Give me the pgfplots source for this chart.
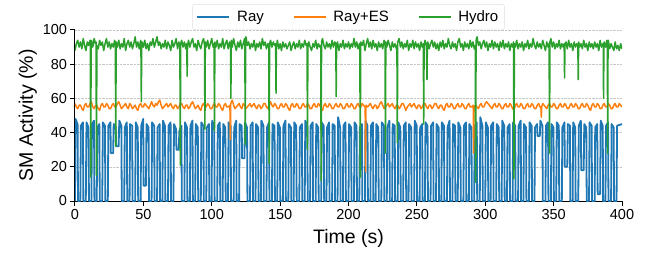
\documentclass[border=0pt]{standalone}
\usepackage{pgfplots}
\pgfplotsset{compat=1.18}
\usepackage{fontspec}
\setmainfont{Liberation Sans}
\definecolor{cblue}{HTML}{1F77B4}
\definecolor{corange}{HTML}{FF7F0E}
\definecolor{cgreen}{HTML}{2CA02C}
\begin{document}
\begin{tikzpicture}
\useasboundingbox (-75pt,-53pt) rectangle (572pt,201pt);
\begin{axis}[
  at={(0pt,0pt)}, anchor=south west,
  width=547pt, height=171pt, scale only axis,
  xmin=0, xmax=400, ymin=0, ymax=100,
  axis x line*=bottom, axis y line*=left,
  axis line style={line width=1pt, -},
  tick align=outside, tick style={line width=1pt, black}, major tick length=4.5pt,
  xtick={0,50,...,400}, ytick={0,20,...,100},
  ymajorgrids, grid style={densely dotted, gray!45, line width=0.6pt},
  /pgf/number format/assume math mode=true,
  ticklabel style={font=\fontsize{14.5}{16}\selectfont},
  xlabel={Time (s)}, ylabel={SM Activity (\%)},
  label style={font=\fontsize{19.5}{21}\selectfont},
  xlabel style={yshift=-3pt},
  ylabel style={yshift=-1pt},
  legend columns=3,
  legend style={at={(0.5,1.0)}, anchor=south, draw=gray!25, rounded corners=2pt,
    font=\fontsize{15}{17}\selectfont, inner xsep=4pt, inner ysep=4.5pt,
    /tikz/every odd column/.append style={column sep=5pt},
    /tikz/every even column/.append style={column sep=27pt}},
  legend image code/.code={\draw[#1, line width=1.5pt] (0pt,0pt) -- (32pt,0pt);},
  every axis plot/.append style={line width=1.5pt, line join=round},
]
\addplot[cblue, line width=1.8pt] coordinates {
(0,0) (0.4,48) (1.9,45) (2.2,0) (3.9,0)
(4.3,44) (5.8,46) (6.1,0) (7.9,0)
(8.4,46) (9.9,43) (10.2,0) (12.0,0)
(12.4,45) (13.9,47) (14.2,0) (15.9,0)
(16.3,43) (17.8,45) (18.1,0) (19.9,0)
(20.4,46) (21.9,44) (22.2,0) (24.0,0)
(24.4,44) (25.9,46) (26.2,28) (27.9,28)
(28.3,45) (29.8,43) (30.1,32) (31.9,32)
(32.4,47) (33.9,44) (34.2,0) (36.0,0)
(36.4,43) (37.9,46) (38.2,0) (39.9,0)
(40.3,45) (41.8,44) (42.1,0) (44.0,0)
(44.4,46) (45.9,43) (46.2,0) (48.0,0)
(48.4,44) (49.9,48) (50.2,9) (51.9,9)
(52.3,45) (53.8,43) (54.1,0) (56.0,0)
(56.4,46) (57.9,44) (58.2,0) (60.0,0)
(60.4,43) (61.9,45) (62.2,0) (63.9,0)
(64.3,47) (65.8,44) (66.1,0) (68.0,0)
(68.4,44) (69.9,46) (70.2,0) (72.0,0)
(72.4,45) (73.9,42) (74.2,30) (75.9,30)
(76.3,41) (77.8,44) (78.1,0) (80.0,0)
(80.4,46) (81.9,43) (82.2,0) (84.0,0)
(84.4,44) (85.9,47) (86.2,0) (87.9,0)
(88.3,45) (89.8,43) (90.1,0) (92.0,0)
(92.4,46) (93.9,44) (94.2,0) (96.0,0)
(96.4,43) (97.9,45) (98.2,0) (99.9,0)
(100.3,47) (101.8,44) (102.1,0) (104.0,0)
(104.4,44) (105.9,46) (106.2,0) (108.0,0)
(108.4,45) (109.9,43) (110.2,0) (111.9,0)
(112.3,46) (113.8,44) (114.1,0) (116.0,0)
(116.4,43) (117.9,47) (118.2,0) (120.0,0)
(120.4,45) (121.9,44) (122.2,25) (123.9,25)
(124.3,46) (125.8,43) (126.1,0) (128.0,0)
(128.4,44) (129.9,46) (130.2,0) (132.0,0)
(132.4,45) (133.9,43) (134.2,0) (135.9,0)
(136.3,47) (137.8,44) (138.1,0) (140.0,0)
(140.4,43) (141.9,46) (142.2,0) (144.0,0)
(144.4,45) (145.9,44) (146.2,0) (147.9,0)
(148.3,46) (149.8,43) (150.1,0) (152.0,0)
(152.4,44) (153.9,47) (154.2,0) (156.0,0)
(156.4,45) (157.9,43) (158.2,0) (159.9,0)
(160.3,46) (161.8,44) (162.1,0) (164.0,0)
(164.4,43) (165.9,45) (166.2,0) (168.0,0)
(168.4,47) (169.9,44) (170.2,0) (171.9,0)
(172.3,44) (173.8,46) (174.1,0) (176.0,0)
(176.4,45) (177.9,43) (178.2,0) (180.0,0)
(180.4,46) (181.9,44) (182.2,0) (183.9,0)
(184.3,43) (185.8,46) (186.1,0) (188.0,0)
(188.4,45) (189.9,44) (190.2,0) (192.0,0)
(192.4,49) (193.9,43) (194.2,0) (195.9,0)
(196.3,44) (197.8,46) (198.1,0) (200.0,0)
(200.4,45) (201.9,43) (202.2,0) (204.0,0)
(204.4,46) (205.9,44) (206.2,0) (207.9,0)
(208.3,43) (209.8,45) (210.1,0) (212.0,0)
(212.4,47) (213.9,44) (214.2,0) (216.0,0)
(216.4,44) (217.9,46) (218.2,0) (219.9,0)
(220.3,45) (221.8,43) (222.1,0) (224.0,0)
(224.4,46) (225.9,44) (226.2,0) (228.0,0)
(228.4,43) (229.9,47) (230.2,0) (231.9,0)
(232.3,45) (233.8,44) (234.1,0) (236.0,0)
(236.4,46) (237.9,43) (238.2,0) (240.0,0)
(240.4,44) (241.9,46) (242.2,0) (243.9,0)
(244.3,45) (245.8,43) (246.1,0) (248.0,0)
(248.4,47) (249.9,44) (250.2,0) (252.0,0)
(252.4,43) (253.9,45) (254.2,0) (255.9,0)
(256.3,46) (257.8,44) (258.1,0) (260.0,0)
(260.4,44) (261.9,46) (262.2,0) (264.0,0)
(264.4,45) (265.9,43) (266.2,0) (267.9,0)
(268.3,46) (269.8,44) (270.1,0) (272.0,0)
(272.4,43) (273.9,47) (274.2,0) (276.0,0)
(276.4,45) (277.9,44) (278.2,0) (279.9,0)
(280.3,46) (281.8,43) (282.1,0) (284.0,0)
(284.4,44) (285.9,46) (286.2,0) (288.0,0)
(288.4,45) (289.9,43) (290.2,0) (291.9,0)
(292.3,44) (293.8,46) (294.1,0) (296.0,0)
(296.4,49) (297.9,44) (298.2,0) (300.0,0)
(300.4,46) (301.9,43) (302.2,0) (303.9,0)
(304.3,44) (305.8,46) (306.1,0) (308.0,0)
(308.4,45) (309.9,43) (310.2,0) (312.0,0)
(312.4,47) (313.9,44) (314.2,0) (315.9,0)
(316.3,43) (317.8,45) (318.1,0) (320.0,0)
(320.4,46) (321.9,44) (322.2,0) (324.0,0)
(324.4,44) (325.9,47) (326.2,0) (327.9,0)
(328.3,45) (329.8,43) (330.1,0) (332.0,0)
(332.4,46) (333.9,44) (334.2,0) (336.0,0)
(336.4,43) (337.9,45) (338.2,38) (339.9,38)
(340.3,47) (341.8,44) (342.1,0) (344.0,0)
(344.4,44) (345.9,46) (346.2,0) (348.0,0)
(348.4,45) (349.9,43) (350.2,0) (351.9,0)
(352.3,46) (353.8,44) (354.1,0) (356.0,0)
(356.4,43) (357.9,46) (358.2,20) (360.0,20)
(360.4,45) (361.9,44) (362.2,0) (363.9,0)
(364.3,46) (365.8,43) (366.1,0) (368.0,0)
(368.4,44) (369.9,47) (370.2,18) (372.0,18)
(372.4,45) (373.9,43) (374.2,0) (375.9,0)
(376.3,46) (377.8,44) (378.1,0) (380.0,0)
(380.4,43) (381.9,45) (382.2,4) (384.0,4)
(384.4,47) (385.9,44) (386.2,0) (387.9,0)
(388.3,44) (389.8,46) (390.1,0) (392.0,0)
(392.4,45) (393.9,43) (394.2,0) (396.0,0)
(396.4,44) (400,45)
};
\addlegendentry{Ray}
\addplot[corange] coordinates {
(0,57) (1,55) (2,54) (3,56) (4,56) (5,54) (6,53) (7,56) (8,57) (9,55)
(10,55) (11,57) (12,58) (13,55) (14,54) (15,56) (16,56) (17,54) (18,53) (19,56)
(20,57) (21,55) (22,55) (23,57) (24,56) (25,54) (26,54) (27,56) (28,57) (29,55)
(30,55) (31,57) (32,58) (33,56) (34,54) (35,55) (36,56) (37,57) (38,55) (39,54)
(40,57) (41,56) (42,54) (43,55) (44,56) (45,54) (46,53) (47,56) (48,57) (49,55)
(50,55) (51,57) (52,56) (53,55) (54,54) (55,56) (56,58) (57,56) (58,55) (59,57)
(60,56) (61,58) (62,59) (63,56) (64,54) (65,55) (66,56) (67,57) (68,55) (69,56)
(70,57) (71,55) (72,54) (73,56) (74,56) (75,54) (76,55) (77,57) (78,57) (79,55)
(80,54) (81,56) (82,56) (83,54) (84,55) (85,57) (86,58) (87,56) (88,54) (89,55)
(90,56) (91,54) (92,53) (93,56) (94,57) (95,55) (96,55) (97,57) (98,56) (99,54)
(100,54) (101,56) (102,57) (103,55) (104,55) (105,57) (106,56) (107,54) (108,53) (109,56)
(110,57) (111,55) (112,55) (113.3,56) (113.6,36) (113.9,57) (115,59) (116,56) (117,54) (118,55)
(119,56) (120,57) (121,55) (122,54) (123,57) (124,56) (125,54) (126,55) (127,56) (128,57)
(129,55) (130,56) (131,57) (132,55) (133,54) (134,56) (135,56) (136,54) (137,55) (138,57)
(139,57) (140,55) (141,54) (142,56) (143,58) (144,56) (145,55) (146,57) (147,56) (148,54)
(149,54) (150,56) (151,57) (152,55) (153,55) (154,57) (155,56) (156,54) (157,53) (158,56)
(159,57) (160,55) (161,55) (162,57) (163,56) (164,54) (165,54) (166,56) (167,57) (168,55)
(169,55) (170,57) (171,56) (172,54) (173,54) (174,56) (175,57) (176,55) (177,55) (178,57)
(179,56) (180,54) (181,53) (182,56) (183,57) (184,55) (185,55) (186,57) (187,56) (188,54)
(189,54) (190,56) (191,57) (192,55) (193,55) (194,57) (195,56) (196,54) (197,54) (198,56)
(199,57) (200,55) (201,55) (202,57) (203,56) (204,54) (205,54) (206,56) (207,57) (208,55)
(209,55) (210,57) (211,56) (212.2,55) (212.5,17) (212.8,56) (214,55) (215,56) (216,57) (217,55)
(218,54) (219,56) (220,56) (221,54) (222,55) (223,57) (224,58) (225,56) (226,54) (227,55)
(228,56) (229,57) (230,55) (231,56) (232,57) (233,55) (234,54) (235,56) (236,56) (237,54)
(238,55) (239,57) (240,57) (241,55) (242,53) (243,55) (244,56) (245,57) (246,55) (247,56)
(248,57) (249,55) (250,54) (251,56) (252,56) (253,54) (254,55) (255,57) (256,57) (257,55)
(258,54) (259,56) (260,56) (261,54) (262,55) (263,57) (264,57) (265,55) (266,54) (267,56)
(268,56) (269,54) (270,53) (271,56) (272,57) (273,55) (274,55) (275,57) (276,56) (277,54)
(278,54) (279,56) (280,57) (281,55) (282,55) (283,57) (284,56) (285,54) (286,54) (287,56)
(288,57) (289,55) (290,55) (291.2,56) (291.5,28) (291.8,55) (293,56) (294,55) (295,54) (296,56)
(297,57) (298,55) (299,55) (300,57) (301,58) (302,57) (303,56) (304,55) (305,54) (306,56)
(307,57) (308,55) (309,55) (310,57) (311,56) (312,54) (313,54) (314,56) (315,57) (316,55)
(317,55) (318,57) (319,56) (320,54) (321,53) (322,56) (323,57) (324,55) (325,55) (326,57)
(327,56) (328,54) (329,54) (330,56) (331,57) (332,55) (333,55) (334,57) (335,56) (336,54)
(337,54) (338,56) (339,57) (340,55) (340.7,55) (341,49) (341.3,55) (342,57) (343,56) (344,55)
(345,54) (346,56) (347,57) (348,55) (349,55) (350,57) (351,56) (352,54) (353,54) (354,56)
(355,57) (356,55) (357,55) (358,57) (359,56) (360,54) (361,54) (362,56) (363,57) (364,55)
(365,55) (366,57) (367,56) (368,54) (369,54) (370,56) (371,57) (372,55) (373,55) (374,57)
(375,56) (376,54) (377,53) (378,56) (379,57) (380,55) (381,55) (382,57) (383,56) (384,54)
(385,54) (386,56) (387,57) (388,55) (389,55) (390,57) (391,56) (392,54) (393,54) (394,56)
(395,57) (396,55) (397,55) (398,57) (399,56) (400,55)
};
\addlegendentry{Ray+ES}
\addplot[cgreen] coordinates {
(0,88) (1,92) (2,94) (3,90) (4,93) (5,89) (6,95) (7,91) (8,88) (9,93)
(10,91) (11,94) (11.2,90) (11.5,14) (11.8,92) (12,94) (13,90) (14,95) (15,92) (15.4,93)
(15.7,15) (16.0,91) (17,89) (18,94) (19,91) (20,93) (21,88) (22,92) (23,95) (24,90)
(25,93) (26,89) (27,92) (28,90) (29,94) (29.5,91) (29.8,32) (30.1,93) (31,90) (32,94)
(33,89) (34,92) (35,90) (36,95) (37,88) (38,92) (39,94) (40,90) (41,93) (42,89)
(43,92) (44,96) (45,90) (46,93) (47,89) (48,94) (48.2,91) (48.5,58) (48.8,92) (49,93)
(50,90) (51,94) (52,89) (53,92) (54,88) (55,93) (56,91) (57,95) (58,90) (59,93)
(60,96) (61,91) (62,93) (63,89) (64,92) (65,90) (66,94) (67,89) (68,93) (69,91)
(70,88) (71,94) (72,90) (73,92) (74,95) (75,89) (76,93) (76.7,90) (77,21) (77.3,92)
(78,94) (79,90) (80,93) (81,89) (81.7,92) (82,73) (82.3,91) (83,94) (84,90) (85,93)
(86,95) (87,90) (88,92) (89,88) (90,94) (91,91) (92,89) (93,93) (94,95) (94.7,91)
(95,42) (95.3,93) (96,90) (97,94) (98,89) (99,92) (100,95) (101,90) (101.7,92) (102,41)
(102.3,93) (103,90) (104,94) (105,89) (106,92) (107,90) (108,95) (109,89) (110,92) (111,94)
(112,89) (113,93) (113.7,91) (114,60) (114.3,94) (115,90) (116,95) (117,91) (118,88) (119,93)
(120,90) (121,94) (122,89) (123,92) (124,95) (124.2,91) (124.5,33) (124.8,93) (125,96) (126,91)
(127,93) (128,89) (129,92) (130,90) (131,94) (132,88) (133,92) (134,90) (135,93) (136,89)
(137,95) (138,91) (139,93) (140,89) (141,92) (141.7,90) (142,22) (142.3,92) (143,94) (144,90)
(145,93) (146,91) (146.7,92) (147,63) (147.3,90) (148,94) (149,89) (150,92) (151,88) (152,93)
(153,90) (154,92) (155,89) (156,91) (157,93) (158,88) (159,91) (160,93) (161,89) (162,92)
(163,90) (164,94) (165,89) (166,92) (167,90) (168,94) (169,91) (169.7,92) (170,30) (170.3,90)
(171,93) (172,90) (173,88) (174,92) (175,90) (176,94) (177,89) (178,92) (179,90) (179.7,91)
(180,12) (180.3,93) (181,95) (182,91) (183,89) (184,93) (185,90) (186,92) (187,89) (188,94)
(189,90) (190,93) (190.7,92) (191,61) (191.3,91) (192,93) (193,88) (194,92) (195,90) (196,94)
(197,89) (198,92) (199,90) (200,93) (201,89) (202,92) (203,90) (204,95) (205,90) (206,93)
(207,89) (208,92) (208.3,91) (208.6,14) (208.9,93) (210,91) (211,94) (212,88) (213,92) (214,95)
(215,90) (216,93) (217,89) (218,94) (219,90) (220,92) (221,88) (222,93) (223,90) (224,92)
(225,89) (226,94) (226.7,91) (227,28) (227.3,93) (228,90) (229,94) (230,91) (231,88) (232,93)
(233,90) (234,92) (235,89) (235.4,91) (235.7,34) (236.0,93) (237,95) (238,90) (239,93) (240,89)
(241,92) (242,90) (243,94) (244,88) (245,92) (246,90) (247,94) (248,89) (249,93) (250,90)
(251,92) (252,88) (253,93) (254,90) (254.7,92) (255,45) (255.3,91) (256,94) (257,90) (257.4,71)
(257.7,92) (258,93) (259,89) (260,92) (261,94) (262,90) (263,93) (264,89) (265,92) (266,88)
(267,93) (268,90) (269,94) (270,89) (271,92) (272,90) (273,95) (274,91) (275,89) (276,93)
(277,90) (278,92) (279,88) (280,93) (281,95) (282,90) (283,92) (284,88) (285,93) (286,90)
(287,92) (288,89) (289,94) (290,90) (291,93) (292,89) (292.7,91) (293,11) (293.3,94) (294,96)
(295,91) (296,93) (297,89) (298,92) (299,94) (300,90) (301,93) (302,88) (303,92) (304,90)
(305,94) (306,89) (307,93) (308,90) (309,92) (310,88) (311,93) (312,90) (313,94) (314,89)
(315,92) (316,90) (317,93) (318,88) (319,92) (320,90) (320.7,93) (321,13) (321.3,92) (322,90)
(323,94) (324,89) (325,92) (326,90) (327,93) (328,88) (329,92) (330,90) (331,94) (332,89)
(333,92) (334,90) (335,95) (336,91) (337,89) (338,93) (339,90) (340,92) (341,89) (342,94)
(343,91) (344,88) (345,93) (346,90) (346.7,92) (347,28) (347.3,93) (348,95) (349,90) (350,93)
(351,89) (352,92) (353,90) (354,94) (355,89) (356,92) (357,90) (357.7,92) (358,72) (358.3,91)
(359,93) (360,89) (361,94) (362,90) (363,92) (364,88) (365,93) (366,90) (367,92) (367.7,91)
(368,71) (368.3,93) (369,90) (370,92) (371,89) (372,94) (373,90) (374,92) (375,88) (376,93)
(377,90) (378,92) (379,89) (380,93) (381,90) (382,92) (383,88) (384,94) (385,90) (386,92)
(386.3,91) (386.5,60) (386.8,92) (387,93) (388,90) (389,94) (389.3,91) (389.5,28) (389.8,92) (390,94)
(391,89) (392,92) (393,90) (394,88) (395,93) (396,89) (397,91) (398,88) (399,92) (400,89)
};
\addlegendentry{Hydro}
\end{axis}
\end{tikzpicture}
\end{document}
